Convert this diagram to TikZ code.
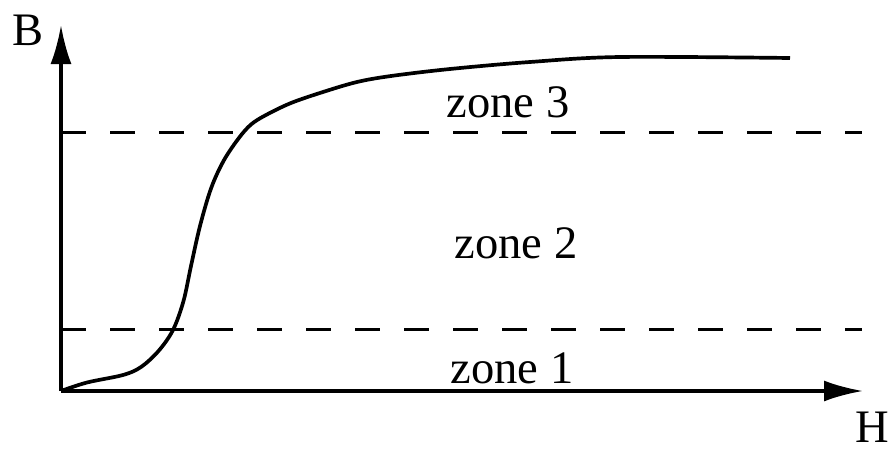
\documentclass[tikz,border=0pt]{standalone}
\usepackage{fontspec}
\setmainfont{Liberation Serif}
\usetikzlibrary{arrows.meta}
\tikzset{
  axisline/.style={line width=1.9pt,-{Latex[length=7.8mm,width=4.2mm]}},
  zoneline/.style={line width=1.8pt,dash pattern=on 5mm off 4.8mm},
  bhcurve/.style={line width=2.1pt,line join=round},
  zonelabel/.style={anchor=base,inner sep=0pt,font=\fontsize{26.5}{30}\selectfont},
}
\begin{document}
\begin{tikzpicture}
\useasboundingbox (-1.22,-1.32) rectangle (16.64,7.82);
\pgfmathsetmacro{\kxend}{16.04}
\pgfmathsetmacro{\kyend}{7.32}
\coordinate (O) at (0,0);
\coordinate (Hend) at (\kxend,0);
\coordinate (Bend) at (0,\kyend);
\draw[axisline](O)--(Hend);
\draw[axisline](O)--(Bend);
\node[zonelabel,anchor=base west](Blb) at (-0.98,6.92){B};
\node[zonelabel,anchor=base west](Hlb) at (15.88,-1.02){H};
\foreach \ly/\lname in {1.23/low,5.17/high}{
  \coordinate (\lname L) at (0,\ly);
  \coordinate (\lname R) at (16.02,\ly);
  \draw[zoneline](\lname L)--(\lname R);
}
\foreach \zx/\zy/\zlb in {9.02/0.16/1,9.10/2.66/2,8.94/5.48/3}{\node[zonelabel](zone\zlb) at (\zx,\zy){zone \zlb};}
\draw[bhcurve] plot[smooth,tension=0.55] coordinates {(0,0) (0.52,0.17) (1.24,0.32) (1.6,0.48) (1.95,0.8) (2.24,1.22) (2.45,1.8) (2.6,2.5) (2.78,3.3) (3.0,4.05) (3.25,4.6) (3.55,5.05) (3.8,5.33) (4.1,5.52) (4.6,5.76) (5.24,5.98) (5.92,6.18) (6.6,6.3) (7.78,6.44) (9.38,6.58) (11.18,6.68) (14.58,6.66)};
\end{tikzpicture}
\end{document}
